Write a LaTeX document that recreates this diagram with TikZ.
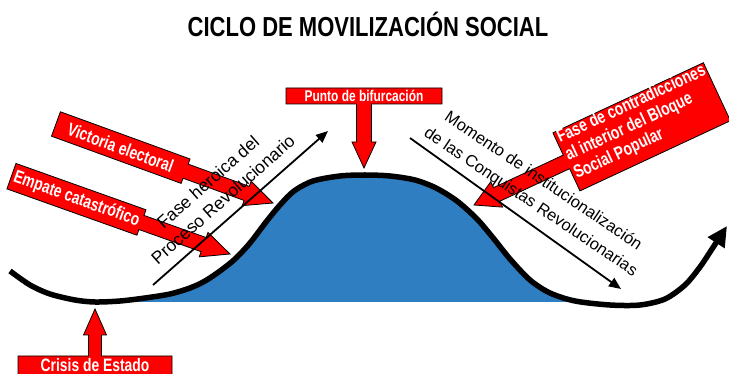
\documentclass[tikz,border=0pt]{standalone}
\usepackage{fontspec}
\setmainfont{Liberation Sans}
\newfontfamily\narrowfont[FakeStretch=0.77]{Liberation Sans}
\newfontfamily\titlefont[FakeStretch=0.8]{Liberation Sans}
\usetikzlibrary{arrows.meta}
\definecolor{hillblue}{RGB}{46,126,193}
\definecolor{callred}{RGB}{255,0,0}
% #1 tip, #2 rotation, #3 total length, #4 box length, #5 box width, #6 shaft width, #7 head width, #8 head length
\newcommand\calloutshape[8]{%
  \begin{scope}[shift={#1},rotate=#2]
    \filldraw[callout] (-#3,-#5/2) -- (-#3+#4,-#5/2) -- (-#3+#4,-#6/2) -- (-#8,-#6/2) -- (-#8,-#7/2) -- (0,0)
      -- (-#8,#7/2) -- (-#8,#6/2) -- (-#3+#4,#6/2) -- (-#3+#4,#5/2) -- (-#3,#5/2) -- cycle;
  \end{scope}}
\def\hillpts{(10,271) (30,285) (50,294) (75,300) (95,302) (120,301) (145,298) (170,294) (190,288) (205,281) (220,271) (235,259) (250,243) (266,222) (280,205) (294,191) (313,181) (340,176) (365,175) (390,176) (415,180) (436,188) (457,201) (477,219) (494,239) (510,259) (530,280) (550,293) (575,301) (610,305) (640,305) (665,299) (685,285) (700,267) (712,249) (727,226)}
\begin{document}
\begin{tikzpicture}[x=1pt,y=-1pt,
  callout/.style={fill=callred, draw=black, line width=0.8pt, line join=miter},
  calltext/.style={font=\narrowfont\bfseries\fontsize{18}{21}\selectfont, text=white, inner sep=0pt},
  lefttext/.style={font=\fontsize{17.5}{21}\selectfont, inner sep=0pt, anchor=base, rotate=41.5},
  righttext/.style={font=\fontsize{16.5}{20}\selectfont, inner sep=0pt, anchor=base, rotate=-34},
  thinarrow/.style={line width=1.8pt, -{Triangle[length=12pt,width=10pt]}},
  hill/.style={line width=5.5pt, line cap=butt, -{Triangle[length=20pt,width=19pt]}}]
\clip (0,0) rectangle (729,374);
\useasboundingbox (0,0) rectangle (729,374);

% title
\node[font=\titlefont\bfseries\fontsize{27.5}{30}\selectfont, anchor=base, inner sep=0pt] (title) at (368,37) {CICLO DE MOVILIZACIÓN SOCIAL};

% blue hill
\begin{scope}
  \clip (110,0) rectangle (590,302);
  \fill[hillblue] plot[smooth] coordinates {\hillpts} -- (729,400) -- (0,400) -- cycle;
\end{scope}
\draw[hill] plot[smooth] coordinates {\hillpts};

% red callouts
\calloutshape{(273,203)}{-20}{231}{138}{26}{15}{26}{28}
\calloutshape{(230,254)}{-19.6}{232}{138}{27}{15}{26}{28}
\calloutshape{(364,168)}{-90}{80}{16}{156}{15}{24}{26}
\calloutshape{(95,309)}{90}{76}{29}{154}{13}{23}{26}
\calloutshape{(474,205)}{205}{268}{166}{64}{15}{28}{25}

\node[calltext, rotate=-20] (victoria) at (120.7,147.6) {Victoria electoral};
\node[calltext, rotate=-19.6] (empate) at (76.5,199.4) {Empate catastrófico};
\node[calltext, font=\narrowfont\bfseries\fontsize{15.5}{18}\selectfont] (punto) at (364,95.5) {Punto de bifurcación};
\node[calltext, anchor=base] (crisis) at (95,371) {Crisis de Estado};
\node[calltext, anchor=base west, rotate=25] (fase1) at (560,143) {Fase de contradicciones};
\node[calltext, anchor=base west, rotate=25] (fase2) at (568.5,161) {al interior del Bloque};
\node[calltext, anchor=base west, rotate=25] (fase3) at (577,179) {Social Popular};

% thin arrows
\coordinate (lA) at (153,285);
\coordinate (lB) at (328,131);
\coordinate (rA) at (410,138);
\coordinate (rB) at (621,289);
\draw[thinarrow] (lA) -- (lB);
\draw[thinarrow] (rA) -- (rB);

% phase texts
\node[lefttext] (heroica1) at (212,186.5) {Fase heroica del};
\node[lefttext] (heroica2) at (227,204) {Proceso Revolucionario};
\node[righttext] (momento1) at (540.6,185) {Momento de institucionalización};
\node[righttext] (momento2) at (528,206) {de las Conquistas Revolucionarias};
\end{tikzpicture}
\end{document}
